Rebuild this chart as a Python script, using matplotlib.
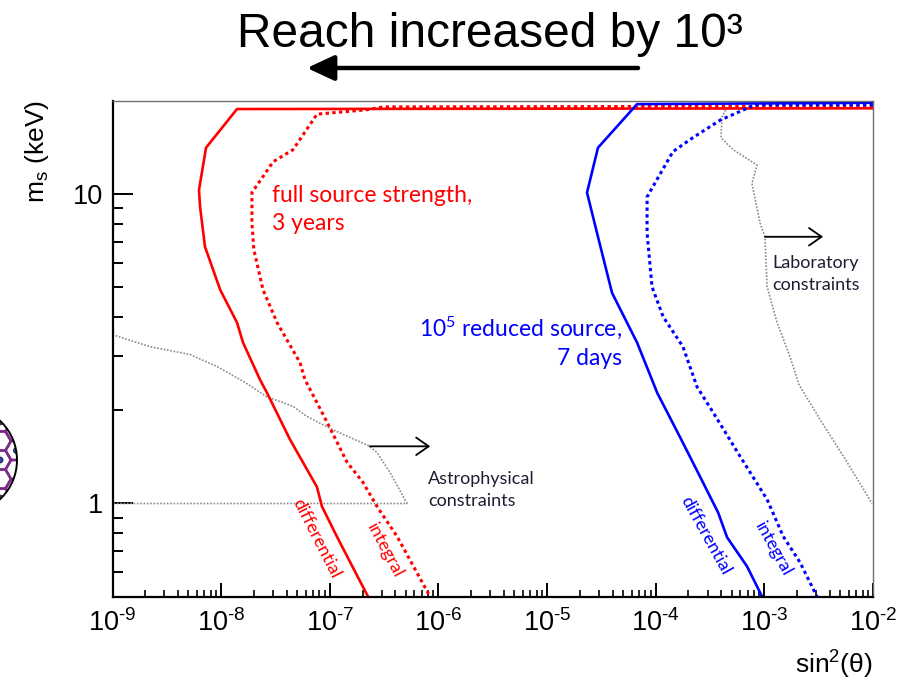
import matplotlib
matplotlib.use("Agg")
import numpy as np
import matplotlib.pyplot as plt
from matplotlib.patches import Ellipse, RegularPolygon, Circle
from matplotlib.ticker import FixedLocator, FuncFormatter, NullFormatter

# ---- sensitivity contours: sin^2(theta) vs sterile mass m_s [keV] ----
# full source strength, 3 years
full_diff_sin2 = [1.0e-2, 1.40e-8, 7.26e-9, 6.25e-9, 6.4e-9, 7.1e-9, 9.8e-9, 1.40e-8,
                  1.59e-8, 2.28e-8, 2.64e-8, 4.30e-8, 7.62e-8, 8.47e-8, 1.16e-7, 2.25e-7]
full_diff_ms = [18.9, 18.8, 14.1, 10.3, 9.08, 6.75, 4.90, 3.84,
                3.31, 2.51, 2.28, 1.61, 1.13, 0.978, 0.783, 0.50]

full_int_sin2 = [1.0e-2, 3.09e-7, 2.20e-7, 7.63e-8, 4.59e-8, 3.01e-8, 1.92e-8, 1.92e-8,
                 2.00e-8, 2.43e-8, 3.27e-8, 5.32e-8, 5.92e-8, 9.44e-8, 1.44e-7, 2.02e-7,
                 2.72e-7, 4.16e-7, 8.38e-7]
full_int_ms = [19.2, 19.1, 18.7, 18.1, 13.9, 12.7, 10.1, 8.06,
               6.60, 4.90, 3.84, 2.85, 2.51, 1.83, 1.36, 1.17,
               0.978, 0.783, 0.50]

# source reduced by 10^5, 7 days
red_diff_sin2 = [1.0e-2, 6.73e-5, 2.94e-5, 2.33e-5, 2.94e-5, 3.96e-5, 6.73e-5, 9.24e-5,
                 1.03e-4, 1.67e-4, 2.56e-4, 3.75e-4, 4.54e-4, 6.93e-4, 9.53e-4]
red_diff_ms = [19.7, 19.5, 14.1, 10.1, 7.27, 4.79, 3.31, 2.51,
               2.28, 1.64, 1.22, 0.935, 0.777, 0.626, 0.50]

red_int_sin2 = [1.0e-2, 8.20e-4, 3.91e-4, 2.20e-4, 1.44e-4, 8.32e-5, 8.32e-5, 9.24e-5,
                1.17e-4, 1.78e-4, 2.40e-4, 3.37e-4, 5.97e-4, 1.06e-3, 1.49e-3, 2.13e-3,
                3.05e-3]
red_int_ms = [19.4, 19.4, 17.3, 15.2, 13.7, 9.78, 7.48, 5.01,
              4.01, 3.21, 2.38, 1.97, 1.42, 1.03, 0.783, 0.645,
              0.50]

# existing limits
lab_sin2 = [4.53e-4, 4.07e-4, 3.99e-4, 5.14e-4, 8.55e-4, 7.69e-4, 9.12e-4, 1.01e-3,
            1.06e-3, 1.31e-3, 1.72e-3, 2.08e-3, 3.25e-3, 5.77e-3, 9.8e-3]
lab_ms = [19.1, 17.7, 15.2, 13.9, 12.4, 10.8, 8.06, 7.27,
          5.01, 3.84, 2.98, 2.42, 1.87, 1.36, 1.0]

astro_sin2 = [1.0e-9, 2.21e-9, 5.16e-9, 9.17e-9, 1.66e-8, 2.64e-8, 4.59e-8, 6.17e-8,
              1.07e-7, 2.34e-7, 2.72e-7, 3.58e-7, 5.14e-7, 1.0e-9]
astro_ms = [3.51, 3.21, 3.03, 2.77, 2.46, 2.21, 2.06, 1.91,
            1.73, 1.53, 1.46, 1.26, 1.0, 1.0]

x_decades = [-9, -8, -7, -6, -5, -4, -3, -2]
y_major = [1, 10]
y_major_labels = ["1", "10"]
y_minor = [0.6, 0.7, 0.8, 0.9, 2, 3, 4, 5, 6, 7, 8, 9]

plt.rcParams['font.family'] = ['Liberation Sans', 'DejaVu Sans']
plt.rcParams['mathtext.fontset'] = 'custom'
plt.rcParams['mathtext.rm'] = 'Liberation Sans'
plt.rcParams['mathtext.it'] = 'Liberation Sans:italic'
plt.rcParams['mathtext.default'] = 'regular'
NOTE_FONT = ['Lato', 'DejaVu Sans']

fig = plt.figure(figsize=(9.08, 6.81), dpi=100)

# full-figure pixel canvas for the headline arrow and the logo
deco = fig.add_axes([0, 0, 1, 1], zorder=0)
deco.set_xlim(0, 908)
deco.set_ylim(681, 0)
deco.axis('off')

ax = fig.add_axes([0.1239, 0.1238, 0.8376, 0.7283], zorder=1)
ax.set_xscale('log')
ax.set_yscale('log')
ax.set_xlim(1e-9, 1e-2)
ax.set_ylim(0.5, 20)

RED = '#ff0000'
BLUE = '#0000ff'
GREY = '#8a8a8a'
DOTS = (0, (1.1, 1.1))

ax.plot(astro_sin2, astro_ms, color=GREY, lw=1.2, ls=(0, (1, 1)))
ax.plot(lab_sin2, lab_ms, color=GREY, lw=1.2, ls=(0, (1, 1)))
ax.plot(full_int_sin2, full_int_ms, color=RED, lw=2.2, ls=DOTS)
ax.plot(full_diff_sin2, full_diff_ms, color=RED, lw=1.9)
ax.plot(red_int_sin2, red_int_ms, color=BLUE, lw=2.2, ls=DOTS)
ax.plot(red_diff_sin2, red_diff_ms, color=BLUE, lw=1.9)

# axes styling
for side in ('left', 'bottom'):
    ax.spines[side].set_linewidth(1.6)
    ax.spines[side].set_color('black')
for side in ('top', 'right'):
    ax.spines[side].set_linewidth(1.0)
    ax.spines[side].set_color('#707070')


def decade_label(v, pos):
    n = int(round(np.log10(v)))
    sign = '\u2010' if n < 0 else ''
    return r'$10^{%s%d}$' % (sign, abs(n))


ax.xaxis.set_major_locator(FixedLocator([10.0 ** d for d in x_decades]))
ax.xaxis.set_major_formatter(FuncFormatter(decade_label))
ax.xaxis.set_minor_locator(FixedLocator([m * 10.0 ** d for d in x_decades[:-1] for m in range(2, 10)]))
ax.xaxis.set_minor_formatter(NullFormatter())
ax.yaxis.set_major_locator(FixedLocator(y_major))
ax.yaxis.set_major_formatter(FuncFormatter(lambda v, p: y_major_labels[y_major.index(int(round(v)))]))
ax.yaxis.set_minor_locator(FixedLocator(y_minor))
ax.yaxis.set_minor_formatter(NullFormatter())

ax.tick_params(axis='x', which='major', direction='in', length=10, width=1.4, labelsize=19.5, pad=9,
               top=False)
ax.tick_params(axis='x', which='minor', direction='in', length=5, width=1.2, top=False)
ax.tick_params(axis='y', which='major', direction='in', length=14.5, width=1.4, labelsize=19.5, pad=7,
               right=False)
ax.tick_params(axis='y', which='minor', direction='in', length=7.2, width=1.4, right=False)

ax.set_xlabel(r'sin$^2$(θ)', fontsize=19, ha='right', va='center')
ax.xaxis.set_label_coords(1.0, -0.1377)
ax.set_ylabel(r'm$_s$ (keV)', fontsize=19, ha='center', va='center')
ax.yaxis.set_label_coords(-0.0993, 0.8966)

# curve annotations
ax.text(0.2097, 0.7962, 'full source strength,', color=RED, fontsize=16.5, family=NOTE_FONT,
        transform=ax.transAxes, ha='left', va='baseline')
ax.text(0.2097, 0.7393, '3 years', color=RED, fontsize=16.5, family=NOTE_FONT,
        transform=ax.transAxes, ha='left', va='baseline')
ax.text(0.6699, 0.5256, r'10$^5$ reduced source,', color=BLUE, fontsize=16.5, family=NOTE_FONT,
        transform=ax.transAxes, ha='right', va='baseline')
ax.text(0.6699, 0.4671, '7 days', color=BLUE, fontsize=16.5, family=NOTE_FONT,
        transform=ax.transAxes, ha='right', va='baseline')

ax.text(0.2685, 0.1177, 'differential', color=RED, fontsize=13, family=NOTE_FONT,
        rotation=-63, rotation_mode='anchor', transform=ax.transAxes, ha='center', va='center')
ax.text(0.3583, 0.0927, 'integral', color=RED, fontsize=13, family=NOTE_FONT,
        rotation=-62, rotation_mode='anchor', transform=ax.transAxes, ha='center', va='center')
ax.text(0.7800, 0.1230, 'differential', color=BLUE, fontsize=13, family=NOTE_FONT,
        rotation=-61, rotation_mode='anchor', transform=ax.transAxes, ha='center', va='center')
ax.text(0.8689, 0.0962, 'integral', color=BLUE, fontsize=13, family=NOTE_FONT,
        rotation=-61, rotation_mode='anchor', transform=ax.transAxes, ha='center', va='center')

NOTE_INK = '#1e1e33'
ax.text(0.4149, 0.2282, 'Astrophysical', color=NOTE_INK, fontsize=13, family=NOTE_FONT,
        transform=ax.transAxes, ha='left', va='baseline')
ax.text(0.4149, 0.1833, 'constraints', color=NOTE_INK, fontsize=13, family=NOTE_FONT,
        transform=ax.transAxes, ha='left', va='baseline')
ax.text(0.8672, 0.6627, 'Laboratory', color=NOTE_INK, fontsize=13, family=NOTE_FONT,
        transform=ax.transAxes, ha='left', va='baseline')
ax.text(0.8672, 0.6183, 'constraints', color=NOTE_INK, fontsize=13, family=NOTE_FONT,
        transform=ax.transAxes, ha='left', va='baseline')

arrow_kw = dict(arrowstyle='->,head_length=0.5,head_width=0.35', lw=1.3, color='black',
                mutation_scale=18, shrinkA=0, shrinkB=0)
ax.annotate('', xy=(8.4e-7, astro_ms[9]), xytext=(astro_sin2[9], astro_ms[9]), arrowprops=arrow_kw)
ax.annotate('', xy=(3.47e-3, lab_ms[7]), xytext=(lab_sin2[7], lab_ms[7]), arrowprops=arrow_kw)

# headline with arrow
fig.text(237 / 908, 1 - 47 / 681, 'Reach increased by 10³', fontsize=34.5,
         ha='left', va='baseline')
deco.annotate('', xy=(307, 68), xytext=(638, 68),
              arrowprops=dict(arrowstyle='-|>,head_length=0.75,head_width=0.35', lw=3.2,
                              color='black', mutation_scale=22, shrinkA=0, shrinkB=0))

# logo at the left edge
LOGO_C = (-35, 460)
logo_clip = Ellipse(LOGO_C, 104, 106, transform=deco.transData)
deco.add_patch(Ellipse(LOGO_C, 104, 106, facecolor='white', edgecolor='none', zorder=1))
hex_r = 11
for i in range(-6, 3):
    for j in range(-6, 6):
        cx = i * 1.5 * hex_r
        cy = LOGO_C[1] + j * np.sqrt(3) * hex_r + (np.sqrt(3) / 2 * hex_r if i % 2 else 0)
        h = RegularPolygon((cx, cy), 6, radius=hex_r, orientation=np.pi / 6,
                           facecolor='none', edgecolor='#7a2b87', lw=1.8, zorder=2)
        deco.add_patch(h)
        h.set_clip_path(logo_clip)
        if (i + j) % 2 == 0:
            d = Circle((cx, cy), 3, facecolor='#2f4a9a', edgecolor='#1a1a40', lw=0.6, zorder=2)
            deco.add_patch(d)
            d.set_clip_path(logo_clip)
deco.add_patch(Ellipse(LOGO_C, 104, 106, facecolor='none', edgecolor='black', lw=1.4, zorder=3))

fig.savefig('out.png', dpi=100, facecolor='white')
